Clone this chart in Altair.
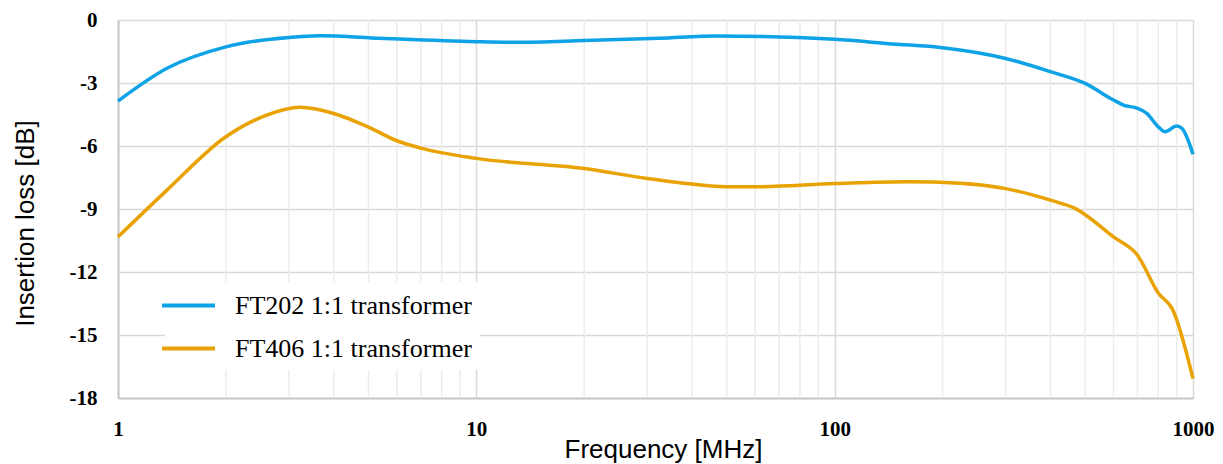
import altair as alt
import pandas as pd

# FT202 series
ft202_freq = [1, 1.37, 2.0, 3.0, 3.66, 5.4, 10, 13, 20, 32.5, 47, 100, 145, 200, 300, 400,
              500, 600, 640, 700, 743, 800, 836, 900, 930, 1000]
ft202_loss = [-3.86, -2.3, -1.28, -0.83, -0.75, -0.87, -1.03, -1.06, -0.98, -0.87, -0.76, -0.92,
              -1.14, -1.32, -1.83, -2.46, -3.02, -3.81, -4.05, -4.21, -4.45, -5.09, -5.32, -5.05,
              -5.15, -6.39]

# FT406 series
ft406_freq = [1, 1.37, 2.0, 2.6, 3.22, 4.0, 5.0, 6.0, 7.0, 10, 20, 30, 37, 50, 60, 100, 160, 224,
              300, 400, 470, 600, 700, 800, 880, 1000]
ft406_loss = [-10.33, -8.1, -5.56, -4.53, -4.16, -4.45, -5.1, -5.75, -6.1, -6.59, -7.07, -7.55,
              -7.75, -7.94, -7.94, -7.79, -7.7, -7.77, -8.03, -8.58, -8.98, -10.33, -11.2, -13.0,
              -13.83, -17.08]

series_names = ["FT202 1:1 transformer", "FT406 1:1 transformer"]
series_colors = ["#0ea2e6", "#e8a202"]

x_ticks = [1, 10, 100, 1000]
y_ticks = [-18, -15, -12, -9, -6, -3, 0]
minor_freqs = [2, 3, 4, 5, 6, 7, 8, 9, 20, 30, 40, 50, 60, 70, 80, 90,
               200, 300, 400, 500, 600, 700, 800, 900]

df = pd.concat([
    pd.DataFrame({"freq": ft202_freq, "loss": ft202_loss, "series": series_names[0]}),
    pd.DataFrame({"freq": ft406_freq, "loss": ft406_loss, "series": series_names[1]}),
])
minor_df = pd.DataFrame({"freq": minor_freqs})

xscale = alt.Scale(type="log", domain=[1, 1000], nice=False)
yscale = alt.Scale(domain=[-18, 0], nice=False)

minor = alt.Chart(minor_df).mark_rule(color="#ececec", strokeWidth=1.5).encode(
    x=alt.X("freq:Q", scale=xscale)
)

lines = alt.Chart(df).mark_line(interpolate="monotone", strokeWidth=3.5).encode(
    x=alt.X("freq:Q", scale=xscale,
            axis=alt.Axis(values=x_ticks, format="d", title="Frequency [MHz]",
                          grid=True, gridColor="#d9d9d9", gridWidth=1.5,
                          ticks=False, tickSize=0, labelPadding=20,
                          labelFont="Liberation Serif", labelFontWeight="bold", labelFontSize=21,
                          labelColor="#000000", labelFlush=False,
                          titleFont="Liberation Sans", titleFontSize=26, titleFontWeight="normal",
                          titleColor="#000000", titleX=545, titleY=51, titleBaseline="middle",
                          domainColor="#c8c8c8", domainWidth=2)),
    y=alt.Y("loss:Q", scale=yscale,
            axis=alt.Axis(values=y_ticks, labelExpr="'' + datum.value", title="Insertion loss [dB]",
                          grid=True, gridColor="#d9d9d9", gridWidth=1.5,
                          ticks=False, tickSize=0, labelPadding=21,
                          labelFont="Liberation Serif", labelFontWeight="bold", labelFontSize=21,
                          labelColor="#000000", labelFlush=False,
                          titleFont="Liberation Sans", titleFontSize=26, titleFontWeight="normal",
                          titleColor="#000000", titleX=-93, titleY=203, titleAngle=-90,
                          titleAlign="center", titleBaseline="middle",
                          domainColor="#c8c8c8", domainWidth=2)),
    color=alt.Color("series:N",
                    scale=alt.Scale(domain=series_names, range=series_colors),
                    legend=alt.Legend(title=None, orient="none", legendX=47, legendY=262,
                                      fillColor="#ffffff", padding=8,
                                      symbolType="M-2,0H2", symbolSize=703, symbolStrokeWidth=4,
                                      labelFont="Liberation Serif", labelFontSize=26,
                                      labelColor="#000000", labelOffset=31, rowPadding=14,
                                      labelLimit=400)),
)

chart = alt.layer(minor, lines).properties(
    width=1075, height=378,
    autosize=alt.AutoSizeParams(type="none"),
    padding={"left": 110, "top": 12, "right": 22, "bottom": 66},
).configure_view(stroke=None).configure(background="#ffffff")

chart.save("out.html", embed_options={"renderer": "svg", "actions": False})
